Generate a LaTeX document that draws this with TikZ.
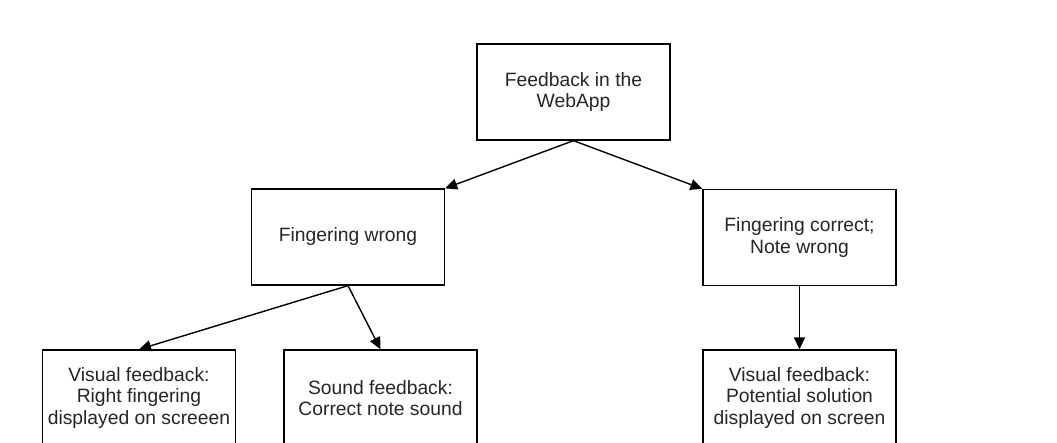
\documentclass[tikz,border=0pt]{standalone}
\usepackage{fontspec}
\setmainfont{Liberation Sans}
\usetikzlibrary{arrows.meta}
\begin{document}
\begin{tikzpicture}[x=1pt,y=-1pt,
  box/.style={draw, line width=1.3pt, minimum width=193pt, minimum height=96pt, inner sep=0pt,
    align=center, font=\fontsize{19.3}{21.5}\selectfont, text=black!85},
  conn/.style={line width=1.4pt, -{Triangle[length=12pt,width=11pt]}}]
\useasboundingbox (0,0) rectangle (1057,442);
\fill[white] (0,0) rectangle (1057,442);
\node[box] (top) at (573.5,92) {Feedback in the\\WebApp};
\node[box] (fw) at (348,237) {Fingering wrong};
\node[box] (fc) at (799.5,237.5) {Fingering correct;\\Note wrong};
\node[box] (vl) at (139,398) {Visual feedback:\\Right fingering\\displayed on screeen};
\node[box] (sd) at (380.5,398) {Sound feedback:\\Correct note sound};
\node[box] (vr) at (799.5,398) {Visual feedback:\\Potential solution\\displayed on screen};
\draw[conn] (top.south) -- (fw.north east);
\draw[conn] (top.south) -- (fc.north west);
\draw[conn] (fw.south) -- (vl.north);
\draw[conn] (fw.south) -- (sd.north);
\draw[conn] (fc.south) -- (vr.north);
\end{tikzpicture}
\end{document}
